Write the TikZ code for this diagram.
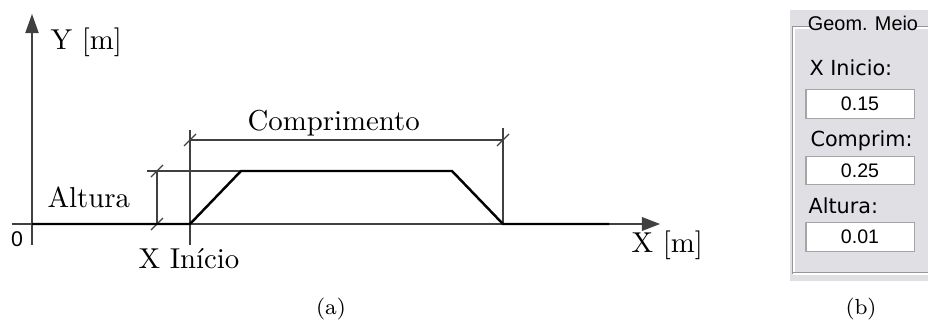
\documentclass[tikz,border=0pt]{standalone}
\usepackage{fontspec}
\usetikzlibrary{arrows.meta}
\newfontfamily\guifont{DejaVu Sans}
\newfontfamily\numfont{Liberation Sans}
\definecolor{guibg}{RGB}{224,224,228}
\definecolor{guidark}{RGB}{150,150,150}
\definecolor{boxedge}{RGB}{165,165,165}
\begin{document}
\begin{tikzpicture}[x=0.3472pt,y=-0.3472pt,
  axisline/.style={line width=0.4pt, black!75},
  profile/.style={line width=0.85pt, black, line join=miter},
  dimline/.style={line width=0.4pt, black!75},
  lbl/.style={inner sep=0pt, anchor=base west},
  capt/.style={inner sep=0pt, font=\fontsize{7.6}{9}\selectfont},
  guilabel/.style={inner sep=0pt, anchor=base west, font=\guifont\fontsize{7.2}{8.6}\selectfont},
  numbox/.style={draw=boxedge, fill=white, line width=0.35pt, minimum width=37.5pt, minimum height=10pt, inner sep=0pt, font=\numfont\fontsize{6.8}{8}\selectfont},
  etchdark/.style={line width=0.35pt, guidark},
  etchlight/.style={line width=0.35pt, white}
]
\useasboundingbox (0,0) rectangle (928,322);

% ---------- panel (a) ----------
\coordinate (ytip) at (32,14);
\coordinate (ybot) at (32,245);
\coordinate (xleft) at (12,224);
\coordinate (xtip) at (660,224);
\coordinate (O) at (32,224);
\coordinate (p1) at (190,224);
\coordinate (p2) at (241,171);
\coordinate (p3) at (452,171);
\coordinate (p4) at (503,224);
\coordinate (p5) at (609,224);
\coordinate (c1top) at (190,130);
\coordinate (c1bot) at (190,245);
\coordinate (c1) at (190,140);
\coordinate (c2top) at (503,128);
\coordinate (c2) at (503,140);
\coordinate (a0) at (147,171);
\coordinate (a1) at (157,171);
\coordinate (a2) at (157,224);

% axes
\draw[axisline,-{Triangle[length=6.6pt,width=4.6pt]}] (ybot) -- (ytip);
\draw[axisline,-{Triangle[length=6.3pt,width=4.8pt]}] (xleft) -- (xtip);

% dimension lines
\draw[dimline] (c1top) -- (c1bot);
\draw[dimline] (c2top) -- (p4);
\draw[dimline] (c1) -- (c2);
\draw[dimline] (a0) -- (p2);
\draw[dimline] (a1) -- (a2);
\foreach \c in {c1,c2,a1,a2}
  \draw[dimline,shift={(\c)}] (-6,6) -- (6,-6);

% profile
\draw[profile] (O) -- (p1) -- (p2) -- (p3) -- (p4) -- (p5);

% labels
\node[lbl] (ylab) at (50,50) {Y [m]};
\node[lbl] (xlab) at (631,253) {X [m]};
\node[lbl] (complab) at (247,130) {Comprimento};
\node[lbl] (altlab) at (47,207) {Altura};
\node[lbl] (xinlab) at (138,268) {X Início};
\node[inner sep=0pt, font=\numfont\fontsize{7.4}{8}\selectfont] (zero) at (17,239) {0};
\node[capt] (capa) at (331,309) {(a)};

% ---------- panel (b) ----------
\fill[guibg] (790,10) rectangle (928,281);
\draw[etchdark] (812,27) -- (793,27) -- (793,273) -- (928,273);
\draw[etchdark] (914,27) -- (928,27);
\draw[etchlight] (812,28) -- (794,28) -- (794,272);
\draw[etchlight] (793,274) -- (928,274);
\draw[etchlight] (914,28) -- (928,28);
\node[inner sep=0pt, font=\numfont\fontsize{6.9}{8}\selectfont] (gtitle) at (863,23.3) {Geom. Meio};

\node[guilabel] (lx) at (809,75) {X Inicio:};
\node[numbox] (bx) at (860,103.8) {0.15};
\node[guilabel] (lc) at (810,147) {Comprim:};
\node[numbox] (bc) at (860,170.5) {0.25};
\node[guilabel] (la) at (808,213) {Altura:};
\node[numbox] (ba) at (860,237.2) {0.01};

\node[capt] (capb) at (861,309) {(b)};
\end{tikzpicture}
\end{document}
